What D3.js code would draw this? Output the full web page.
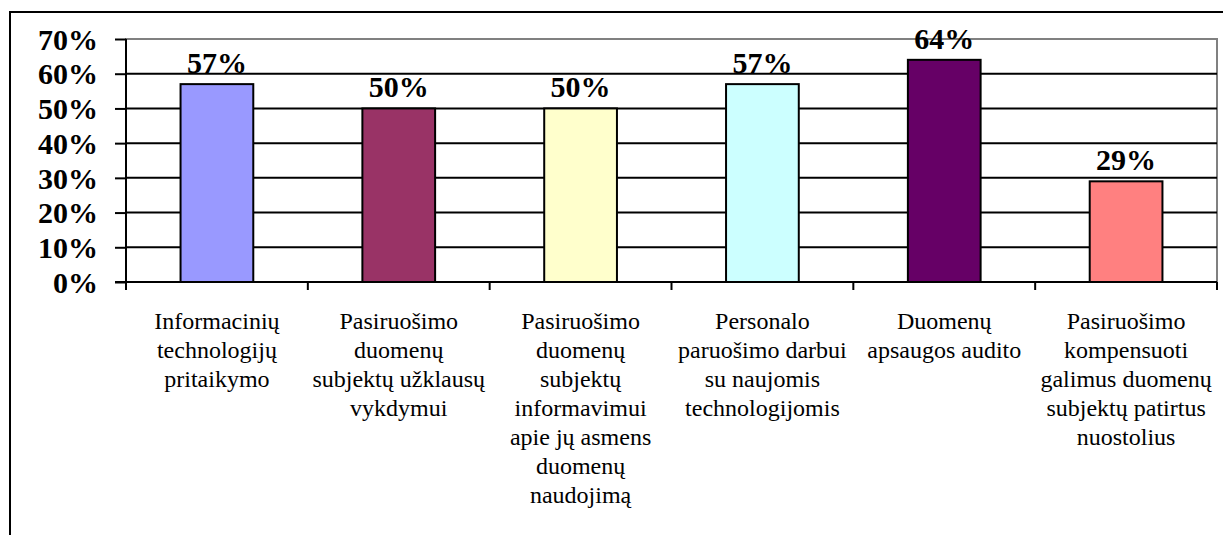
<!DOCTYPE html>
<html><head><meta charset="utf-8">
<script src="https://cdn.jsdelivr.net/npm/d3@7"></script>
<style>html,body{margin:0;padding:0;background:#fff;}svg{display:block;}</style>
</head><body>
<svg id="c" width="1223" height="535"></svg>
<script>
const categories = [
  ["Informacinių","technologijų","pritaikymo"],
  ["Pasiruošimo","duomenų","subjektų užklausų","vykdymui"],
  ["Pasiruošimo","duomenų","subjektų","informavimui","apie jų asmens","duomenų","naudojimą"],
  ["Personalo","paruošimo darbui","su naujomis","technologijomis"],
  ["Duomenų","apsaugos audito"],
  ["Pasiruošimo","kompensuoti","galimus duomenų","subjektų patirtus","nuostolius"]
];
const values = [57, 50, 50, 57, 64, 29];
const colors = ["#9999FF","#993366","#FFFFCC","#CCFFFF","#660066","#FF8080"];
const yTicks = [0,10,20,30,40,50,60,70];

(function(){
const FF = '"Liberation Serif"';
const svg = d3.select("#c");
const pL = 126, pR = 1217, pT = 39, pB = 282;
const x = d3.scaleBand().domain(d3.range(values.length)).range([pL, pR]).paddingInner(0).paddingOuter(0);
const y = d3.scaleLinear().domain([0,70]).range([pB, pT]);

svg.append("rect").attr("x",10).attr("y",12).attr("width",1300).attr("height",600)
  .attr("fill","none").attr("stroke","#000").attr("stroke-width",2);

svg.append("rect").attr("x",pL).attr("y",pT).attr("width",pR-pL).attr("height",pB-pT)
  .attr("fill","none").attr("stroke","#808080").attr("stroke-width",2);

svg.append("g").selectAll("line").data(yTicks.filter(d=>d>0 && d<70)).join("line")
  .attr("x1",pL).attr("x2",pR).attr("y1",d=>y(d)).attr("y2",d=>y(d))
  .attr("stroke","#000").attr("stroke-width",2);

const yAxis = d3.axisLeft(y).tickValues(yTicks).tickFormat(d=>d+"%").tickSize(11).tickPadding(17);
const gy = svg.append("g").attr("transform",`translate(${pL},0)`).call(yAxis);
gy.select(".domain").attr("stroke","#000").attr("stroke-width",2).attr("d",`M0,${pT}V${pB+7}`);
gy.selectAll(".tick line").attr("stroke","#000").attr("stroke-width",2);
gy.selectAll(".tick text").style("font-family",FF).style("font-weight","bold").style("font-size","30px").attr("fill","#000").attr("dy","0.34em");

svg.append("line").attr("x1",pL-11).attr("x2",pR).attr("y1",pB).attr("y2",pB).attr("stroke","#000").attr("stroke-width",2);
svg.append("g").selectAll("line").data(d3.range(values.length+1)).join("line")
  .attr("x1",i=>pL + i*x.bandwidth()).attr("x2",i=>pL + i*x.bandwidth())
  .attr("y1",pB).attr("y2",pB+8).attr("stroke","#000").attr("stroke-width",2);

const bw = x.bandwidth()*0.4;
svg.append("g").selectAll("rect").data(values).join("rect")
  .attr("x",(d,i)=>x(i)+x.bandwidth()/2-bw/2).attr("width",bw)
  .attr("y",d=>y(d)).attr("height",d=>pB-y(d))
  .attr("fill",(d,i)=>colors[i]).attr("stroke","#000").attr("stroke-width",2);

svg.append("g").selectAll("text").data(values).join("text")
  .attr("x",(d,i)=>x(i)+x.bandwidth()/2).attr("y",d=>y(d)-11)
  .attr("text-anchor","middle").style("font-family",FF).style("font-weight","bold").style("font-size","30px")
  .text(d=>d+"%");

const cg = svg.append("g").selectAll("text").data(categories).join("text")
  .attr("x",(d,i)=>x(i)+x.bandwidth()/2).attr("y",329)
  .attr("text-anchor","middle").style("font-family",FF).style("font-size","24px");
cg.selectAll("tspan").data(d=>d).join("tspan")
  .attr("x",function(){return this.parentNode.getAttribute("x");})
  .attr("dy",(d,j)=>j===0?0:29).text(d=>d);
})();
</script>
</body></html>
